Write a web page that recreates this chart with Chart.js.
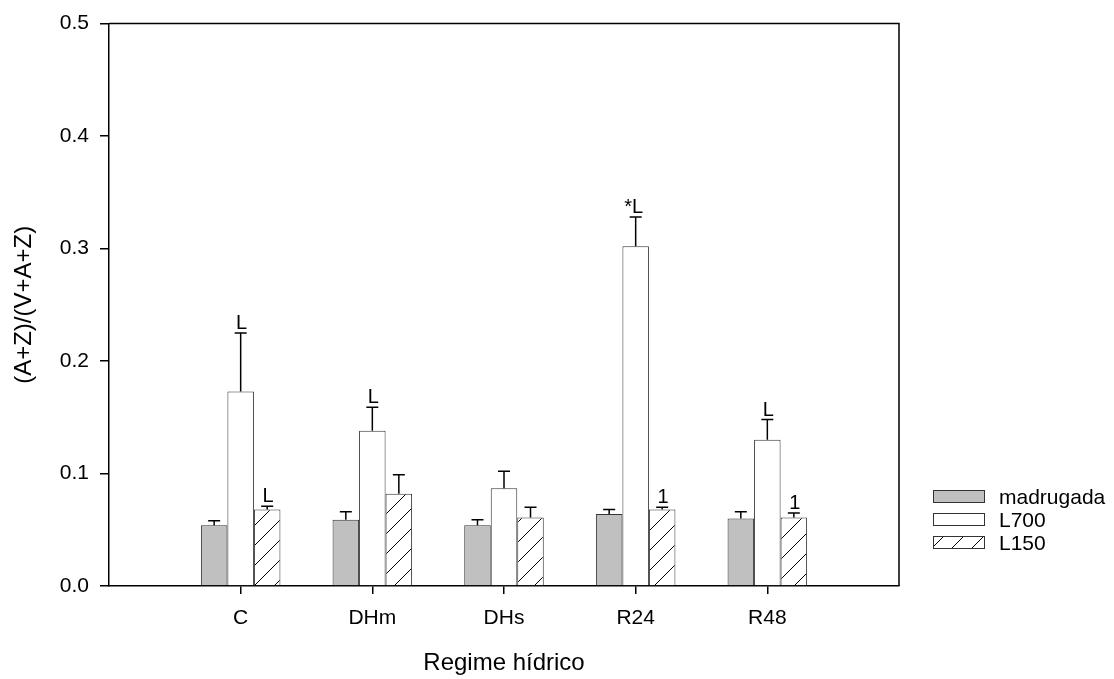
<!DOCTYPE html>
<html>
<head>
<meta charset="utf-8">
<script src="https://cdn.jsdelivr.net/npm/chart.js@4.4.1/dist/chart.umd.min.js"></script>
<style>
  body { margin: 0; background: #fff; }
  canvas { display: block; }
</style>
</head>
<body>
<canvas id="myChart" width="1114" height="679"></canvas>
<script>
// datos
const categorias = ['C', 'DHm', 'DHs', 'R24', 'R48'];
const madrugada = [0.054, 0.059, 0.054, 0.064, 0.060];
const madrugadaErr = [0.004, 0.007, 0.005, 0.004, 0.006];
const l700 = [0.173, 0.138, 0.087, 0.302, 0.130];
const l700Err = [0.052, 0.021, 0.015, 0.026, 0.018];
const l150 = [0.068, 0.082, 0.061, 0.068, 0.061];
const l150Err = [0.003, 0.017, 0.009, 0.002, 0.004];
const l700Marcas = ['L', 'L', '', '*L', 'L'];
const l150Marcas = ['L', '', '', '1', '1'];
const yTicks = [0, 0.1, 0.2, 0.3, 0.4, 0.5];

const FONT = 'Arial, "Liberation Sans", sans-serif';

// patron rayado para L150
function rayado() {
  const c = document.createElement('canvas');
  c.width = 20; c.height = 20;
  const g = c.getContext('2d');
  g.fillStyle = '#fff';
  g.fillRect(0, 0, 20, 20);
  g.strokeStyle = '#000';
  g.lineWidth = 1;
  g.beginPath();
  g.moveTo(-2, 22); g.lineTo(22, -2);
  g.stroke();
  return g.createPattern(c, 'repeat');
}
const patron = rayado();

const puntos = arr => arr.map((v, i) => ({ x: i, y: v }));

const extras = {
  id: 'extras',
  afterDatasetsDraw(chart) {
    const { ctx, chartArea: a, scales: { y } } = chart;
    ctx.save();
    // barras de error y marcas
    chart.data.datasets.forEach((ds, di) => {
      const meta = chart.getDatasetMeta(di);
      meta.data.forEach((bar, i) => {
        const top = y.getPixelForValue(ds.data[i].y + ds.err[i]);
        ctx.strokeStyle = '#000';
        ctx.lineWidth = 1.5;
        ctx.beginPath();
        ctx.moveTo(bar.x, bar.y);
        ctx.lineTo(bar.x, top);
        ctx.moveTo(bar.x - 6, top);
        ctx.lineTo(bar.x + 6, top);
        ctx.stroke();
        const m = ds.marcas ? ds.marcas[i] : '';
        if (m) {
          ctx.fillStyle = '#000';
          ctx.font = '20px ' + FONT;
          ctx.textAlign = 'center';
          ctx.textBaseline = 'alphabetic';
          ctx.fillText(m, bar.x + (m.length > 1 ? -2 : 1), top - 4);
        }
      });
    });
    // marco superior y derecho
    ctx.strokeStyle = '#000';
    ctx.lineWidth = 1.5;
    ctx.beginPath();
    ctx.moveTo(a.left, a.top);
    ctx.lineTo(a.right, a.top);
    ctx.lineTo(a.right, a.bottom);
    ctx.stroke();
    // leyenda
    const filas = [497, 520, 543];
    chart.data.datasets.forEach((ds, di) => {
      const yy = filas[di];
      ctx.fillStyle = ds.backgroundColor;
      ctx.fillRect(933, yy - 7, 52, 13);
      ctx.strokeStyle = '#333';
      ctx.lineWidth = 1;
      ctx.strokeRect(933.5, yy - 6.5, 51, 12);
      ctx.fillStyle = '#000';
      ctx.font = '21px ' + FONT;
      ctx.textAlign = 'left';
      ctx.textBaseline = 'middle';
      ctx.fillText(ds.label, 999, yy + 1);
    });
    ctx.restore();
  }
};

new Chart(document.getElementById('myChart'), {
  type: 'bar',
  data: {
    datasets: [
      { label: 'madrugada', data: puntos(madrugada), err: madrugadaErr, backgroundColor: '#c0c0c0' },
      { label: 'L700', data: puntos(l700), err: l700Err, marcas: l700Marcas, backgroundColor: '#ffffff' },
      { label: 'L150', data: puntos(l150), err: l150Err, marcas: l150Marcas, backgroundColor: patron }
    ]
  },
  options: {
    responsive: false,
    animation: false,
    devicePixelRatio: 1,
    layout: { padding: { top: 17, right: 215, left: 0, bottom: 0 } },
    datasets: {
      bar: {
        borderColor: '#333',
        borderWidth: 1,
        categoryPercentage: 0.604,
        barPercentage: 1.0
      }
    },
    plugins: {
      legend: { display: false },
      tooltip: { enabled: false }
    },
    scales: {
      x: {
        type: 'linear',
        min: -1,
        max: 5,
        offset: false,
        afterBuildTicks: s => { s.ticks = categorias.map((c, i) => ({ value: i })); },
        afterFit: s => { s.height = 93; },
        ticks: {
          callback: v => categorias[v] ?? '',
          color: '#000',
          font: { family: FONT, size: 21 },
          padding: 12,
          maxRotation: 0
        },
        grid: { drawOnChartArea: false, offset: false, color: '#000', tickLength: 8, lineWidth: 1.5 },
        border: { color: '#000', width: 1.5 },
        title: {
          display: true,
          text: 'Regime hídrico',
          color: '#000',
          font: { family: FONT, size: 24 },
          padding: { top: 0, bottom: 1 }
        }
      },
      y: {
        min: 0,
        max: 0.5,
        afterBuildTicks: s => { s.ticks = yTicks.map(v => ({ value: v })); },
        afterFit: s => { s.width = 109; },
        ticks: {
          callback: v => v.toFixed(1),
          color: '#000',
          font: { family: FONT, size: 21 },
          padding: 11
        },
        grid: { drawOnChartArea: false, color: '#000', tickLength: 9, lineWidth: 1.5 },
        border: { color: '#000', width: 1.5 },
        title: {
          display: true,
          text: '(A+Z)/(V+A+Z)',
          color: '#000',
          font: { family: FONT, size: 24 },
          padding: { top: 10, bottom: 0 }
        }
      }
    }
  },
  plugins: [extras]
});
</script>
</body>
</html>
